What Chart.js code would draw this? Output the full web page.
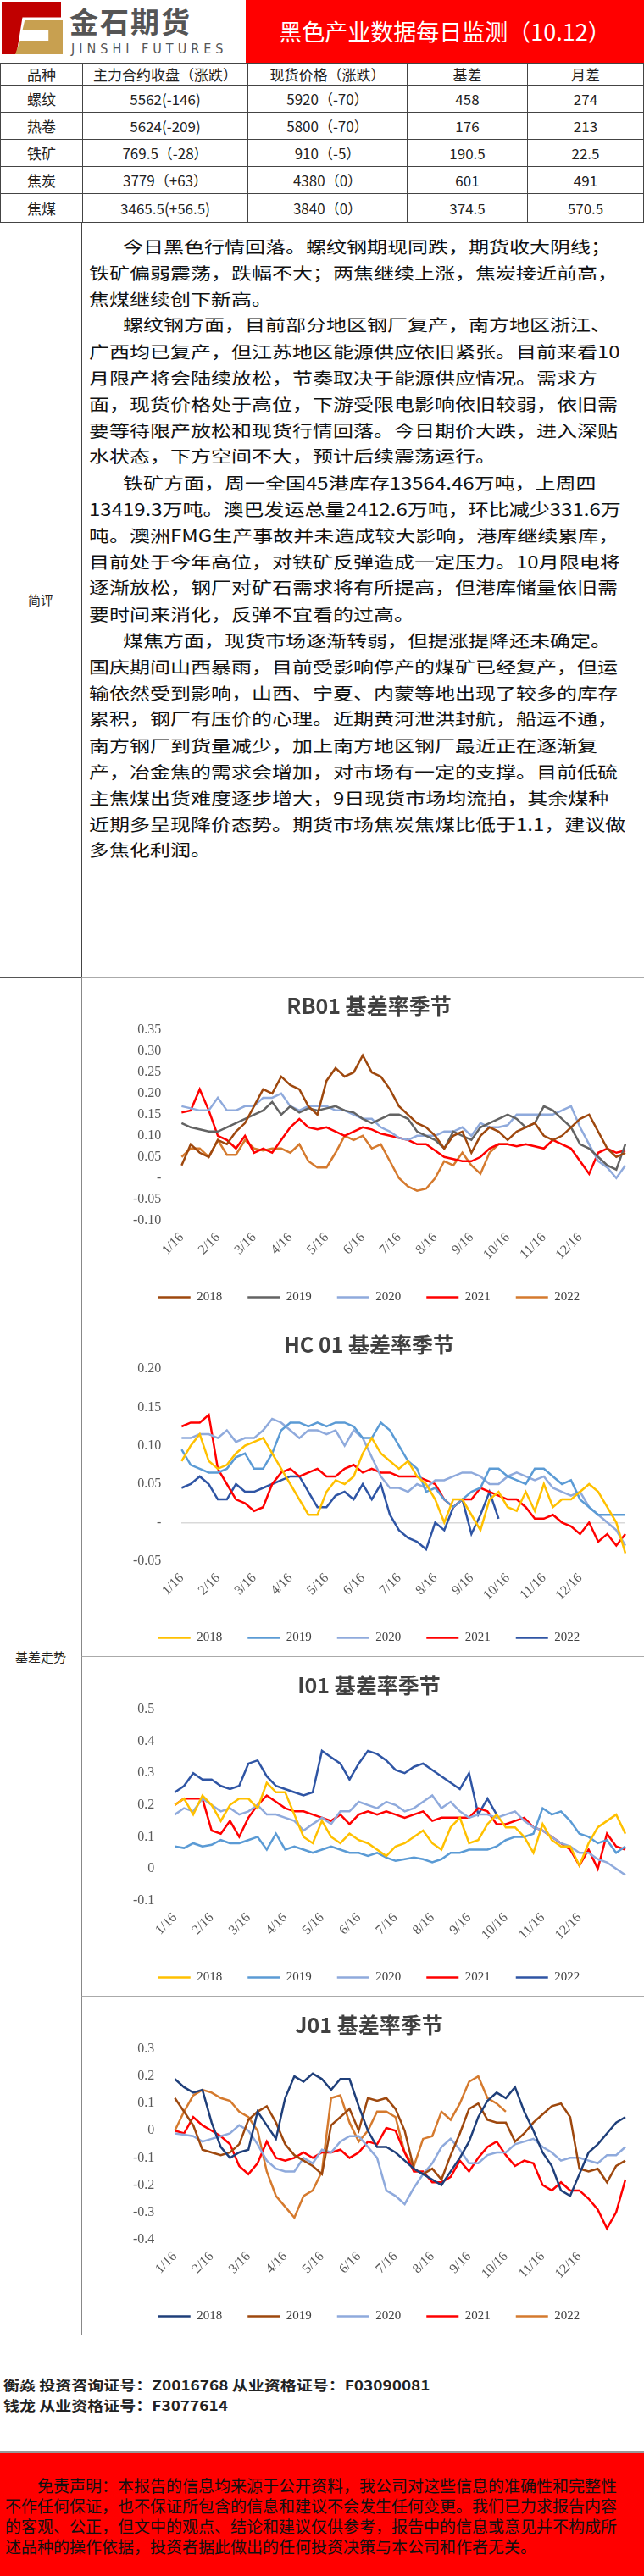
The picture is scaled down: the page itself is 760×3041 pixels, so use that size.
<!DOCTYPE html>
<html><head><meta charset="utf-8">
<script src="https://cdn.jsdelivr.net/npm/chart.js@4"></script>
<style>
body{margin:0;width:760px;height:3041px;background:#fff;font-family:"Noto Sans CJK SC",sans-serif;color:#222;position:relative;overflow:hidden}
.abs{position:absolute}
.hdrR{left:290px;top:0;width:470px;height:74px;background:#ff0000;color:#fff;font-size:27px;line-height:74px;text-align:center}
table{position:absolute;left:0;top:74px;width:760px;border-collapse:collapse;font-size:17px}
td{border:1px solid #444;text-align:center;padding:0;height:31px;line-height:31px}
.txt{left:96px;top:262px;width:664px;height:891px;border-left:1px solid #444;border-top:1px solid #444;box-sizing:border-box}
.inner{position:absolute;left:8px;top:12px;transform:scale(1,0.82);transform-origin:0 0;font-size:24px;line-height:37.8px;white-space:nowrap;color:#111}
.ind{padding-left:40px}
.lab{left:0;width:96px;text-align:center;font-size:15px}
.cbox{left:96px;width:664px;border-left:1px solid #888;border-top:1px solid #aaa;box-sizing:border-box}
.foot{left:4px;font-weight:bold;font-size:19px;transform:scale(1,0.85);transform-origin:0 0;white-space:nowrap}
.disc{left:0;top:2894px;width:760px;height:147px;background:#ff0000;border-top:2px solid #999}
.dinner{position:absolute;left:6px;top:26px;font-size:19px;line-height:24px;white-space:nowrap;color:#111}
</style></head><body>
<div class="abs" style="left:0;top:0;width:290px;height:74px;background:#fff">
  <div class="abs" style="left:2px;top:2px;width:70px;height:62px;background:#c00000;clip-path:polygon(0 0,100% 0,100% 30%,35% 30%,25% 100%,0 100%)"></div>
  <div class="abs" style="left:18px;top:24px;width:56px;height:40px;background:#c8a050;clip-path:polygon(20% 0,100% 0,100% 100%,0 100%,10% 60%,70% 60%,70% 30%,15% 30%)"></div>
  <div class="abs" style="left:82px;top:0px;font-size:34px;font-weight:bold;color:#555;letter-spacing:2px">金石期货</div>
  <div class="abs" style="left:84px;top:48px;font-size:16px;color:#555;letter-spacing:5px;font-family:'DejaVu Sans Condensed',sans-serif">JINSHI FUTURES</div>
</div>
<div class="abs hdrR">黑色产业数据每日监测（10.12）</div>
<table>
<tr style="height:25px"><td style="width:96px;height:25px;line-height:25px">品种</td><td style="width:194px;height:25px;line-height:25px">主力合约收盘（涨跌）</td><td style="width:187px;height:25px;line-height:25px">现货价格（涨跌）</td><td style="width:141px;height:25px;line-height:25px">基差</td><td style="height:25px;line-height:25px">月差</td></tr>
<tr><td>螺纹</td><td>5562(-146)</td><td>5920（-70）</td><td>458</td><td>274</td></tr>
<tr><td>热卷</td><td>5624(-209)</td><td>5800（-70）</td><td>176</td><td>213</td></tr>
<tr><td>铁矿</td><td>769.5（-28）</td><td>910（-5）</td><td>190.5</td><td>22.5</td></tr>
<tr><td>焦炭</td><td>3779（+63）</td><td>4380（0）</td><td>601</td><td>491</td></tr>
<tr><td style="height:33px">焦煤</td><td>3465.5(+56.5)</td><td>3840（0）</td><td>374.5</td><td>570.5</td></tr>
</table>
<div class="abs lab" style="top:697px">简评</div>
<div class="abs txt"><div class="inner">
<div class="ind">今日黑色行情回落。螺纹钢期现同跌，期货收大阴线；</div>
<div>铁矿偏弱震荡，跌幅不大；两焦继续上涨，焦炭接近前高，</div>
<div>焦煤继续创下新高。</div>
<div class="ind">螺纹钢方面，目前部分地区钢厂复产，南方地区浙江、</div>
<div>广西均已复产，但江苏地区能源供应依旧紧张。目前来看10</div>
<div>月限产将会陆续放松，节奏取决于能源供应情况。需求方</div>
<div>面，现货价格处于高位，下游受限电影响依旧较弱，依旧需</div>
<div>要等待限产放松和现货行情回落。今日期价大跌，进入深贴</div>
<div>水状态，下方空间不大，预计后续震荡运行。</div>
<div class="ind">铁矿方面，周一全国45港库存13564.46万吨，上周四</div>
<div>13419.3万吨。澳巴发运总量2412.6万吨，环比减少331.6万</div>
<div>吨。澳洲FMG生产事故并未造成较大影响，港库继续累库，</div>
<div>目前处于今年高位，对铁矿反弹造成一定压力。10月限电将</div>
<div>逐渐放松，钢厂对矿石需求将有所提高，但港库储量依旧需</div>
<div>要时间来消化，反弹不宜看的过高。</div>
<div class="ind">煤焦方面，现货市场逐渐转弱，但提涨提降还未确定。</div>
<div>国庆期间山西暴雨，目前受影响停产的煤矿已经复产，但运</div>
<div>输依然受到影响，山西、宁夏、内蒙等地出现了较多的库存</div>
<div>累积，钢厂有压价的心理。近期黄河泄洪封航，船运不通，</div>
<div>南方钢厂到货量减少，加上南方地区钢厂最近正在逐渐复</div>
<div>产，冶金焦的需求会增加，对市场有一定的支撑。目前低硫</div>
<div>主焦煤出货难度逐步增大，9日现货市场均流拍，其余煤种</div>
<div>近期多呈现降价态势。期货市场焦炭焦煤比低于1.1，建议做</div>
<div>多焦化利润。</div>
</div></div>
<div class="abs" style="left:0;top:1153px;width:96px;border-top:2px solid #555"></div>
<div class="abs lab" style="top:1945px">基差走势</div>
<div class="abs cbox" style="top:1153px;height:400px"><canvas id="c1"></canvas></div>
<div class="abs cbox" style="top:1553px;height:402px"><canvas id="c2"></canvas></div>
<div class="abs cbox" style="top:1955px;height:401px"><canvas id="c3"></canvas></div>
<div class="abs cbox" style="top:2356px;height:401px;border-bottom:1px solid #888"><canvas id="c4"></canvas></div>
<div class="abs foot" style="top:2803px">衡焱 投资咨询证号：Z0016768 从业资格证号：F03090081</div>
<div class="abs foot" style="top:2827px">钱龙 从业资格证号：F3077614</div>
<div class="abs disc"><div class="dinner">
<div style="padding-left:38px">免责声明：本报告的信息均来源于公开资料，我公司对这些信息的准确性和完整性</div>
<div>不作任何保证，也不保证所包含的信息和建议不会发生任何变更。我们已力求报告内容</div>
<div>的客观、公正，但文中的观点、结论和建议仅供参考，报告中的信息或意见并不构成所</div>
<div>述品种的操作依据，投资者据此做出的任何投资决策与本公司和作者无关。</div>
</div></div>
<script>
const categories=['1/16','1/24','2/1','2/8','2/16','2/24','3/1','3/8','3/16','3/24','4/1','4/8','4/16','4/24','5/1','5/8','5/16','5/24','6/1','6/8','6/16','6/24','7/1','7/8','7/16','7/24','8/1','8/8','8/16','8/24','9/1','9/8','9/16','9/24','10/1','10/8','10/16','10/24','11/1','11/8','11/16','11/24','12/1','12/8','12/16','12/24','1/1','1/8','1/16','1/24'];
const years=['2018','2019','2020','2021','2022'];
const rb2018=[0.03,0.08,0.06,0.05,0.09,0.08,0.11,0.13,0.17,0.21,0.20,0.24,0.22,0.21,0.17,0.15,0.23,0.26,0.24,0.25,0.29,0.25,0.24,0.21,0.17,0.15,0.13,0.12,0.10,0.07,0.10,0.11,0.06,0.10,0.12,0.11,0.09,0.11,0.12,0.13,0.10,0.09,0.10,0.12,0.14,0.15,0.11,0.07,0.05,0.06];
const rb2019=[0.13,0.12,0.115,0.11,0.11,0.12,0.13,0.14,0.15,0.16,0.18,0.15,0.17,0.155,0.165,0.16,0.165,0.17,0.16,0.155,0.14,0.13,0.14,0.15,0.15,0.14,0.11,0.10,0.09,0.07,0.11,0.10,0.09,0.12,0.13,0.14,0.15,0.14,0.12,0.13,0.17,0.16,0.14,0.12,0.08,0.07,0.05,0.03,0.02,0.08];
const rb2020=[0.17,0.165,0.16,0.16,0.19,0.16,0.16,0.17,0.17,0.19,0.19,0.20,0.17,0.16,0.17,0.17,0.17,0.16,0.16,0.15,0.14,0.14,0.12,0.11,0.095,0.09,0.10,0.10,0.10,0.11,0.11,0.12,0.10,0.13,0.12,0.12,0.125,0.15,0.15,0.15,0.15,0.15,0.16,0.17,0.12,0.08,0.04,0.025,0.00,0.03];
const rb2021=[0.155,0.16,0.21,0.16,0.10,0.09,0.07,0.10,0.06,0.07,0.06,0.09,0.12,0.14,0.12,0.115,0.12,0.11,0.10,0.11,0.12,0.115,0.105,0.10,0.095,0.09,0.08,0.08,0.065,0.05,0.045,0.04,0.04,0.05,0.07,0.08,0.08,0.075,0.08,0.075,0.07,0.09,0.08,0.07,0.04,0.01,0.06,0.07,0.06,0.065];
const rb2022=[0.05,0.07,0.07,0.05,0.09,0.055,0.055,0.09,0.07,0.065,0.07,0.07,0.06,0.08,0.04,0.025,0.025,0.06,0.10,0.09,0.10,0.07,0.08,0.04,0.00,-0.02,-0.03,-0.025,0.00,0.04,0.03,0.06,0.03,0.01,0.06,0.08,0.08];
const hc2018=[0.08,0.10,0.115,0.08,0.07,0.075,0.09,0.10,0.105,0.11,0.09,0.07,0.05,0.03,0.01,0.01,0.04,0.055,0.05,0.06,0.09,0.11,0.09,0.08,0.07,0.08,0.06,0.05,0.03,0.00,0.03,0.03,0.01,-0.01,0.03,0.04,0.02,0.015,0.04,0.015,0.05,0.02,0.03,0.03,0.04,0.05,0.04,0.02,0.00,-0.04];
const hc2019=[0.095,0.075,0.07,0.065,0.065,0.07,0.085,0.09,0.07,0.07,0.09,0.12,0.13,0.13,0.125,0.13,0.125,0.13,0.13,0.125,0.11,0.11,0.13,0.12,0.10,0.08,0.07,0.04,0.045,0.03,0.02,0.03,0.04,0.045,0.07,0.07,0.06,0.055,0.05,0.07,0.07,0.06,0.05,0.055,0.03,0.02,0.01,0.01,0.01,0.01];
const hc2020=[0.11,0.11,0.115,0.115,0.11,0.12,0.105,0.11,0.11,0.12,0.135,0.13,0.12,0.11,0.12,0.12,0.115,0.12,0.10,0.12,0.11,0.085,0.06,0.045,0.045,0.04,0.05,0.045,0.055,0.055,0.06,0.065,0.065,0.06,0.05,0.05,0.06,0.065,0.06,0.055,0.06,0.045,0.04,0.035,0.04,0.02,0.01,0.00,-0.01,-0.03];
const hc2021=[0.125,0.13,0.13,0.14,0.07,0.05,0.03,0.025,0.015,0.02,0.05,0.065,0.07,0.06,0.065,0.07,0.06,0.06,0.07,0.075,0.065,0.07,0.065,0.065,0.06,0.06,0.06,0.055,0.05,0.03,0.02,0.03,0.03,0.045,0.04,0.035,0.03,0.03,0.02,0.005,0.005,0.01,0.00,-0.005,-0.015,0.00,-0.025,-0.015,-0.03,-0.015];
const hc2022=[0.045,0.05,0.06,0.05,0.03,0.03,0.05,0.04,0.04,0.045,0.05,0.055,0.06,0.06,0.04,0.02,0.02,0.035,0.04,0.03,0.05,0.03,0.05,0.01,-0.01,-0.02,-0.025,-0.035,0.00,-0.01,0.02,0.03,-0.015,0.01,0.04,0.005];
const i2018=[0.20,0.22,0.17,0.23,0.20,0.15,0.20,0.22,0.22,0.19,0.27,0.24,0.24,0.17,0.10,0.08,0.15,0.10,0.08,0.11,0.09,0.08,0.06,0.04,0.07,0.08,0.10,0.12,0.08,0.06,0.13,0.16,0.08,0.09,0.14,0.17,0.13,0.13,0.10,0.05,0.14,0.09,0.07,0.07,0.01,0.08,0.13,0.15,0.17,0.11];
const i2019=[0.07,0.065,0.08,0.07,0.075,0.09,0.08,0.08,0.09,0.10,0.06,0.11,0.06,0.07,0.06,0.05,0.06,0.07,0.06,0.05,0.05,0.04,0.05,0.035,0.025,0.03,0.035,0.03,0.02,0.03,0.05,0.05,0.06,0.06,0.06,0.07,0.09,0.10,0.10,0.11,0.19,0.17,0.18,0.15,0.11,0.10,0.08,0.09,0.05,0.07];
const i2020=[0.17,0.19,0.18,0.22,0.20,0.18,0.19,0.17,0.18,0.20,0.17,0.17,0.16,0.15,0.12,0.14,0.16,0.14,0.18,0.18,0.21,0.20,0.19,0.21,0.20,0.18,0.19,0.21,0.23,0.19,0.21,0.18,0.16,0.17,0.17,0.16,0.17,0.18,0.15,0.13,0.12,0.10,0.08,0.07,0.05,0.05,0.03,0.02,0.00,-0.02];
const i2021=[0.20,0.22,0.22,0.22,0.12,0.11,0.15,0.10,0.16,0.20,0.23,0.21,0.19,0.18,0.18,0.17,0.16,0.15,0.17,0.14,0.17,0.18,0.17,0.18,0.17,0.16,0.17,0.18,0.15,0.16,0.16,0.16,0.16,0.19,0.18,0.14,0.14,0.15,0.16,0.13,0.12,0.10,0.08,0.06,0.01,0.06,0.00,0.11,0.07,0.06];
const i2022=[0.24,0.26,0.30,0.28,0.28,0.26,0.25,0.26,0.33,0.34,0.29,0.26,0.25,0.24,0.23,0.24,0.37,0.35,0.33,0.28,0.33,0.37,0.36,0.34,0.31,0.30,0.32,0.33,0.31,0.29,0.27,0.25,0.30,0.17,0.22,0.17];
const j2018=[0.19,0.16,0.14,0.15,0.03,-0.06,-0.10,-0.08,-0.07,0.07,0.02,-0.03,0.12,0.20,0.18,0.21,0.19,0.15,0.19,0.19,0.09,0.0,-0.06,-0.06,-0.08,-0.11,-0.14,-0.16,-0.18,-0.20,-0.15,-0.10,-0.04,0.05,0.11,0.14,0.12,0.16,0.07,0.0,-0.08,-0.13,-0.22,-0.24,-0.16,-0.08,-0.05,-0.01,0.03,0.05];
const j2019=[0.12,0.07,0.02,-0.07,-0.08,-0.09,-0.08,-0.05,0.04,0.07,0.09,0.03,-0.05,-0.09,-0.11,-0.13,-0.16,0.02,0.05,0.08,0.0,0.12,0.11,0.12,0.08,0.0,-0.14,-0.16,-0.14,-0.18,-0.09,-0.01,0.08,0.10,0.04,0.03,0.03,-0.04,-0.01,0.03,0.06,0.09,0.10,0.05,-0.14,-0.15,-0.14,-0.19,-0.13,-0.11];
const j2020=[-0.01,-0.015,-0.02,-0.04,-0.03,-0.02,-0.01,0.02,0.0,-0.05,-0.11,-0.14,-0.15,-0.15,-0.10,-0.12,-0.07,-0.08,-0.04,-0.02,-0.02,-0.06,-0.10,-0.22,-0.24,-0.27,-0.21,-0.16,-0.12,-0.06,-0.03,-0.07,-0.12,-0.12,-0.09,-0.08,-0.08,-0.05,-0.04,-0.03,-0.06,-0.08,-0.11,-0.10,-0.10,-0.11,-0.12,-0.09,-0.09,-0.06];
const j2021=[0.0,-0.01,0.05,0.02,0.0,-0.02,-0.05,-0.13,-0.16,-0.12,-0.04,-0.10,-0.11,-0.10,-0.08,-0.10,-0.08,-0.08,-0.07,-0.10,-0.08,-0.04,-0.05,0.01,0.0,-0.08,-0.15,-0.15,-0.19,-0.19,-0.17,-0.11,-0.15,-0.10,-0.06,-0.04,-0.09,-0.13,-0.11,-0.12,-0.20,-0.22,-0.19,-0.22,-0.22,-0.25,-0.29,-0.36,-0.30,-0.18];
const j2022=[0.0,0.07,0.13,0.15,0.14,0.12,0.11,0.07,0.05,0.0,-0.15,-0.24,-0.28,-0.32,-0.24,-0.22,-0.15,0.12,0.13,0.03,-0.04,0.0,0.07,0.07,0.05,-0.08,-0.13,-0.03,-0.02,0.07,0.04,0.10,0.18,0.20,0.12,0.10,0.07];

const serif="'Liberation Serif','DejaVu Serif',serif";
function make(id,title,series,colors,min,max,step,zeroLabel,dec){
  new Chart(document.getElementById(id),{type:'line',
    data:{labels:categories,datasets:series.map((s,k)=>({label:years[k],data:s,borderColor:colors[k],backgroundColor:colors[k],borderWidth:2.5,pointRadius:0,tension:0,fill:false}))},
    options:{responsive:true,maintainAspectRatio:false,animation:false,
      layout:{padding:{left:36,right:22,top:8,bottom:4}},
      plugins:{title:{display:true,text:title,color:'#404040',font:{family:"'Noto Sans CJK SC'",size:25},padding:{top:10,bottom:14}},
        legend:{position:'bottom',labels:{usePointStyle:true,pointStyle:'line',pointStyleWidth:38,boxHeight:6,padding:30,color:'#404040',font:{family:serif,size:15}}},tooltip:{enabled:false}},
      scales:{x:{grid:{display:false},border:{display:false},ticks:{autoSkip:false,maxRotation:45,minRotation:45,color:'#595959',font:{family:serif,size:16},
          callback:(v,i)=>(i<48&&categories[i].endsWith('/16'))?categories[i]:null}},
        y:{min:min,max:max,border:{display:false},grid:{drawTicks:false,color:c=>c.tick.value===0?'#d9d9d9':'rgba(0,0,0,0)',lineWidth:1.5},
          ticks:{stepSize:step,padding:24,color:'#595959',font:{family:serif,size:16},callback:v=>Math.abs(v)<1e-9?zeroLabel:v.toFixed(dec)}}}}});
}
make('c1','RB01 基差率季节',[rb2018,rb2019,rb2020,rb2021,rb2022],['#9E480E','#636363','#8FAADC','#FF0000','#D57A2E'],-0.10,0.35,0.05,'-',2);
make('c2','HC 01 基差率季节',[hc2018,hc2019,hc2020,hc2021,hc2022],['#FFC000','#5B9BD5','#8FAADC','#FF0000','#2F55A4'],-0.05,0.20,0.05,'-',2);
make('c3','I01 基差率季节',[i2018,i2019,i2020,i2021,i2022],['#FFC000','#5B9BD5','#8FAADC','#FF0000','#2F55A4'],-0.1,0.5,0.1,'0',1);
make('c4','J01 基差率季节',[j2018,j2019,j2020,j2021,j2022],['#1F3F7A','#9E480E','#8FAADC','#FF0000','#D57A2E'],-0.4,0.3,0.1,'0',1);
</script></body></html>
